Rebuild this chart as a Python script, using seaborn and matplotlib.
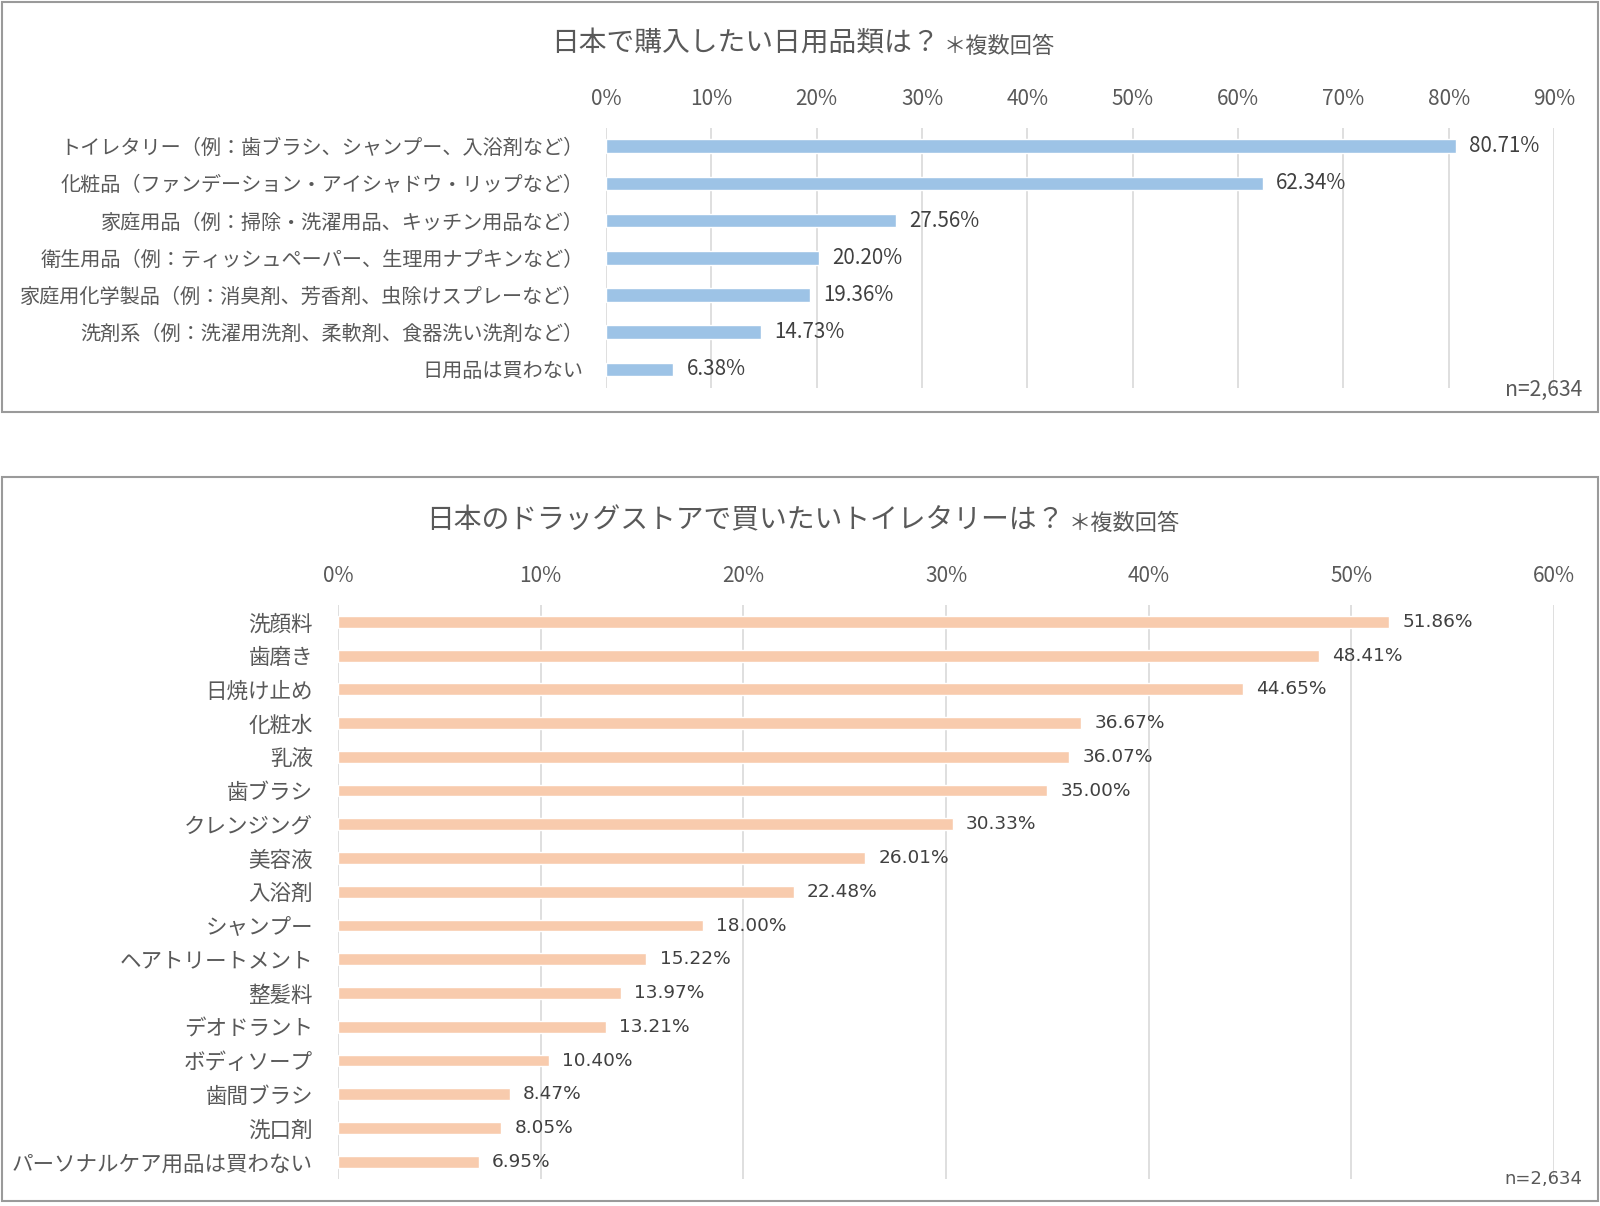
import matplotlib
matplotlib.use("Agg")
import matplotlib.pyplot as plt
import seaborn as sns
from matplotlib.patches import Rectangle
from matplotlib.ticker import MultipleLocator, FuncFormatter

# data
daily_items = [
    "トイレタリー（例：歯ブラシ、シャンプー、入浴剤など）",
    "化粧品（ファンデーション・アイシャドウ・リップなど）",
    "家庭用品（例：掃除・洗濯用品、キッチン用品など）",
    "衛生用品（例：ティッシュペーパー、生理用ナプキンなど）",
    "家庭用化学製品（例：消臭剤、芳香剤、虫除けスプレーなど）",
    "洗剤系（例：洗濯用洗剤、柔軟剤、食器洗い洗剤など）",
    "日用品は買わない",
]
daily_pct = [80.71, 62.34, 27.56, 20.20, 19.36, 14.73, 6.38]

toiletries = [
    "洗顔料", "歯磨き", "日焼け止め", "化粧水", "乳液", "歯ブラシ",
    "クレンジング", "美容液", "入浴剤", "シャンプー", "ヘアトリートメント",
    "整髪料", "デオドラント", "ボディソープ", "歯間ブラシ", "洗口剤",
    "パーソナルケア用品は買わない",
]
toiletry_pct = [51.86, 48.41, 44.65, 36.67, 36.07, 35.00, 30.33, 26.01, 22.48,
                18.00, 15.22, 13.97, 13.21, 10.40, 8.47, 8.05, 6.95]

title_top = "日本で購入したい日用品類は？"
title_bottom = "日本のドラッグストアで買いたいトイレタリーは？"
title_note = "＊複数回答"
n_note = "n=2,634"

sns.set_style("white")
plt.rcParams["font.family"] = ["Noto Sans CJK JP", "DejaVu Sans"]

W, H = 1600, 1206
fig = plt.figure(figsize=(W / 100, H / 100), dpi=100)

GRAY = "#595959"
DARK = "#404040"


def px_box(left, top, right, bottom):
    return [left / W, 1 - bottom / H, (right - left) / W, (bottom - top) / H]


def draw_panel(box, ax_box, cats, vals, xmax, color, bar_w, title, title_y,
               label_fs, label_pad, num_font, num_fs, n_fs):
    # panel frame
    x0, y0, w, h = px_box(*box)
    fig.patches.append(Rectangle((x0, y0), w, h, transform=fig.transFigure,
                                 fill=False, edgecolor="#9a9a9a", linewidth=1.5))
    ax = fig.add_axes(px_box(*ax_box))
    sns.barplot(x=vals, y=cats, ax=ax, color=color, saturation=1, width=bar_w, orient="h")
    ax.set_xlim(0, xmax)
    ax.xaxis.set_major_locator(MultipleLocator(10))
    ax.xaxis.set_major_formatter(FuncFormatter(lambda v, p: f"{v:.0f}%"))
    ax.xaxis.tick_top()
    ax.tick_params(axis="x", length=0, pad=13, labelsize=15, labelcolor=GRAY)
    ax.tick_params(axis="y", length=0, pad=label_pad, labelsize=label_fs, labelcolor=GRAY)
    ax.set_xlabel("")
    ax.set_ylabel("")
    for s in ax.spines.values():
        s.set_visible(False)
    ax.grid(axis="x", color="#d9d9d9", linewidth=1.2)
    ax.grid(axis="y", visible=False)
    ax.set_axisbelow(True)
    ax.bar_label(ax.containers[0], labels=[f"{v:.2f}%" for v in vals], padding=9.5,
                 fontsize=num_fs, color=DARK, family=num_font)
    # title + small note
    t = fig.text(745 / W, 1 - title_y / H, title, ha="center", va="center",
                 fontsize=20, color=GRAY)
    ax.annotate(title_note, xy=(1, 0), xycoords=t, xytext=(3, 0), textcoords="offset points",
                ha="left", va="bottom", fontsize=16, color=GRAY, annotation_clip=False)
    fig.text(1582 / W, 1 - (box[3] - 22) / H, n_note, ha="right", va="center",
             fontsize=n_fs, color=GRAY, family=num_font)
    return ax


draw_panel((2, 2, 1598, 412), (606, 127.6, 1554, 388), daily_items, daily_pct, 90,
           "#9dc3e6", 0.37, title_top, 43, 14.5, 16, ["Noto Sans CJK JP"], 14.8, 15.2)
draw_panel((2, 477, 1598, 1201), (338, 605, 1554, 1178.6), toiletries, toiletry_pct, 60,
           "#f8cbad", 0.35, title_bottom, 520, 15.5, 18, ["DejaVu Sans"], 13.3, 13)

fig.savefig("out.png", dpi=100, facecolor="white")
